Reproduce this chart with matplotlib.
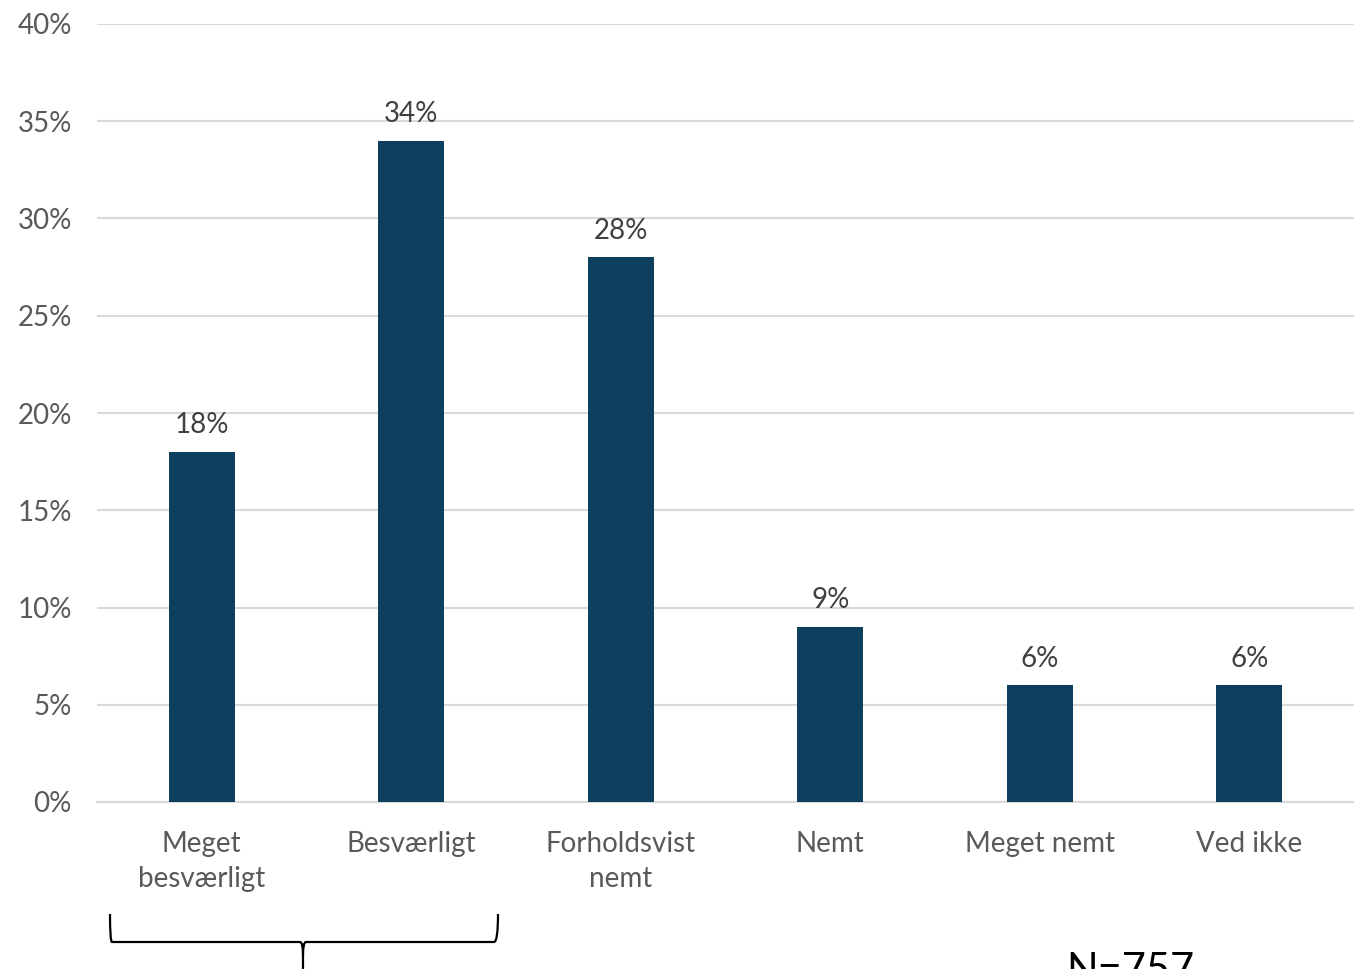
import matplotlib
matplotlib.use("Agg")
import matplotlib.pyplot as plt
from matplotlib.path import Path
from matplotlib.patches import PathPatch
from matplotlib.ticker import FuncFormatter

kategorier = ["Meget\nbesværligt", "Besværligt", "Forholdsvist\nnemt", "Nemt", "Meget nemt", "Ved ikke"]
andele = [18, 34, 28, 9, 6, 6]
yticks = [0, 5, 10, 15, 20, 25, 30, 35, 40]

plt.rcParams['font.family'] = ['Lato', 'DejaVu Sans']

W, H = 1354, 969
fig = plt.figure(figsize=(W / 100, H / 100), dpi=100)
ax = fig.add_axes([97 / W, 1 - 802 / H, 1 - 97 / W, (802 - 24) / H])

x = range(len(kategorier))
bars = ax.bar(x, andele, width=0.315, color='#0d3f5e', zorder=3)
for b, v in zip(bars, andele):
    ax.text(b.get_x() + b.get_width() / 2, v + 0.7, f"{v}%", ha='center', va='bottom',
            fontsize=20, color='#404040')

ax.set_xlim(-0.5, len(kategorier) - 0.5)
ax.set_ylim(0, 40)
ax.set_yticks(yticks)
ax.yaxis.set_major_formatter(FuncFormatter(lambda v, p: f"{v:.0f}%"))
ax.set_xticks(list(x))
ax.set_xticklabels(kategorier, fontsize=20, color='#595959', linespacing=1.4)
ax.tick_params(axis='y', labelsize=20, labelcolor='#595959', length=0, pad=18)
ax.tick_params(axis='x', length=0, pad=21)
ax.grid(axis='y', color='#d9d9d9', linewidth=1.5, zorder=0)
for s in ['top', 'right', 'left']:
    ax.spines[s].set_visible(False)
ax.spines['bottom'].set_color('#d9d9d9')
ax.spines['bottom'].set_linewidth(1.5)

# klammen under de to første kategorier (pixelkoordinater)
def px(xp, yp):
    return (xp / W, 1 - yp / H)

verts = [px(110, 914), px(110, 942), px(112, 942), px(300, 942),
         px(303, 942), px(303, 955), px(303, 969),
         px(303, 955), px(303, 942), px(306, 942),
         px(494, 942), px(498, 942), px(498, 914)]
codes = [Path.MOVETO, Path.CURVE3, Path.CURVE3, Path.LINETO,
         Path.CURVE3, Path.CURVE3, Path.LINETO,
         Path.MOVETO, Path.CURVE3, Path.CURVE3,
         Path.LINETO, Path.CURVE3, Path.CURVE3]
fig.add_artist(PathPatch(Path(verts, codes), transform=fig.transFigure,
                         fill=False, edgecolor='black', linewidth=1.6))

# N-teksten er beskåret i bunden, som i forlægget
fig.text(1066 / W, 1 - 952 / H, "N=757", ha='left', va='top', fontsize=30, color='black')

fig.savefig("out.png", dpi=100)
